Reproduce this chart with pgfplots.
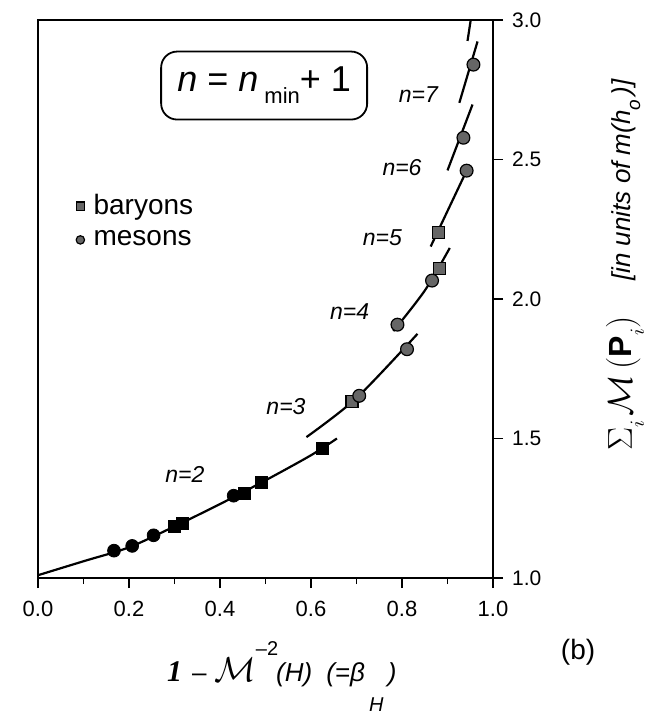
\documentclass[border=0pt]{standalone}
\usepackage{fontspec}
\setmainfont{Liberation Sans}
\newfontfamily\serifone{Liberation Serif}
\usepackage{pgfplots}
\pgfplotsset{compat=1.18}

\begin{document}
\begin{tikzpicture}
\begin{axis}[
  name=ax,
  width=227.5pt, height=279pt, scale only axis,
  xmin=0, xmax=1, ymin=1, ymax=3,
  xtick={0,0.2,0.4,0.6,0.8,1},
  minor xtick={0.1,0.3,0.5,0.7,0.9},
  ytick={1,1.5,2,2.5,3},
  xtick pos=bottom, ytick pos=right, yticklabel pos=right,
  tick align=outside,
  major tick length=5pt, minor tick length=3pt,
  axis line style={line width=1pt},
  every tick/.style={black, line width=0.9pt},
  /pgf/number format/fixed,
  /pgf/number format/fixed zerofill,
  /pgf/number format/precision=1,
  /pgf/number format/assume math mode=true,
  xticklabel style={font=\fontsize{11}{13}\selectfont, yshift=-3pt},
  yticklabel style={font=\fontsize{10.5}{12}\selectfont, xshift=1pt},
  clip=false,
  legend style={at={(0.083,0.695)}, anchor=north west, draw=none, fill=none,
    font=\fontsize{14}{15}\selectfont, row sep=2.5pt, column sep=2.5pt, inner sep=0pt},
  legend cell align=left,
  legend image code/.code={\draw[#1, mark size=2.1pt] plot coordinates {(0pt,0pt)};},
]
% fitted curves, one per n
\addplot[black, line width=1.1pt, smooth, forget plot] coordinates {
  (0,1.01) (0.1,1.06) (0.2,1.11) (0.3,1.185) (0.4,1.265) (0.5,1.35) (0.6,1.44) (0.657,1.50)};
\addplot[black, line width=1.1pt, smooth, forget plot] coordinates {
  (0.59,1.505) (0.70,1.645) (0.834,1.875)};
\addplot[black, line width=1.1pt, smooth, forget plot] coordinates {
  (0.781,1.885) (0.85,2.03) (0.905,2.183)};
\addplot[black, line width=1.1pt, forget plot] coordinates {
  (0.863,2.188) (0.942,2.46)};
\addplot[black, line width=1.1pt, forget plot] coordinates {
  (0.90,2.461) (0.955,2.697)};
\addplot[black, line width=1.1pt, forget plot] coordinates {
  (0.926,2.703) (0.966,2.923)};
\addplot[black, line width=1.1pt, forget plot] coordinates {
  (0.944,2.925) (0.951,3.0)};

% data points
\addplot[only marks, mark=square*, mark size=3pt,
  mark options={fill=black!60, draw=black, line width=0.6pt}] coordinates {
  (0.69,1.632) (0.882,2.11) (0.88,2.239)};
\addlegendentry{baryons}
\addplot[only marks, mark=*, mark size=3.2pt,
  mark options={fill=black!60, draw=black, line width=0.6pt}] coordinates {
  (0.706,1.653) (0.811,1.82) (0.79,1.908) (0.866,2.066) (0.942,2.46) (0.935,2.578) (0.957,2.84)};
\addlegendentry{mesons}
\addplot[only marks, mark=square*, mark size=3pt, forget plot,
  mark options={fill=black, draw=black}] coordinates {
  (0.30,1.185) (0.318,1.195) (0.454,1.303) (0.49,1.341) (0.624,1.466)};
\addplot[only marks, mark=*, mark size=3.2pt, forget plot,
  mark options={fill=black, draw=black}] coordinates {
  (0.167,1.098) (0.207,1.115) (0.254,1.153) (0.43,1.295)};

\begin{scope}[font=\itshape\fontsize{11.5}{13}\selectfont]
\node at (axis cs:0.323,1.372) {n=2};
\node at (axis cs:0.545,1.616) {n=3};
\node at (axis cs:0.685,1.956) {n=4};
\node at (axis cs:0.757,2.22) {n=5};
\node at (axis cs:0.80,2.47) {n=6};
\node at (axis cs:0.836,2.733) {n=7};
\end{scope}

\node[draw, line width=0.9pt, rounded corners=8pt, minimum width=103pt,
  minimum height=34pt, inner sep=0pt] at (axis cs:0.497,2.765)
  {\fontsize{18}{20}\selectfont\textit{n} = \textit{n}\,\raisebox{-6pt}{\fontsize{11}{12}\selectfont min}+ 1};

\node[rotate=90, inner sep=1pt] at (rel axis cs:1.29,0.348)
  {{\fontsize{17}{19}\selectfont$\Sigma$}\raisebox{-6pt}{\fontsize{10}{11}\selectfont$i$}\hspace{2pt}{\fontsize{16}{18}\selectfont$\mathcal{M}$\hspace{3pt}$(\mathbf{P}$\raisebox{-6pt}{\fontsize{10}{11}\selectfont$i$}$)$}};
\node[rotate=90, inner sep=1pt] at (rel axis cs:1.292,0.713)
  {\fontsize{13}{15}\selectfont\itshape [in units of m(h\raisebox{-5pt}{\fontsize{9.5}{10}\selectfont o}\,)]};

\node[anchor=base west] at (rel axis cs:0.268,-0.186)
  {{\serifone\bfseries\itshape\fontsize{15}{18}\selectfont 1}\hspace{5pt}{\fontsize{13}{15}\selectfont --}\hspace{4pt}{\fontsize{16}{18}\selectfont$\mathcal{M}$}\raisebox{13pt}{\fontsize{10}{12}\selectfont --2}\hspace{-1pt}{\itshape\fontsize{13}{15}\selectfont (H)\hspace{7pt}(=β}\hspace{2pt}\raisebox{-15pt}{\itshape\fontsize{10}{12}\selectfont H}{\itshape\fontsize{13}{15}\selectfont\,)}};

\node at (rel axis cs:1.187,-0.133) {\fontsize{14}{16}\selectfont (b)};
\end{axis}
\pgfresetboundingbox
\path[use as bounding box] ([xshift=-19pt,yshift=-68.5pt]ax.south west) rectangle ([xshift=82pt,yshift=10pt]ax.north east);
\end{tikzpicture}
\end{document}
